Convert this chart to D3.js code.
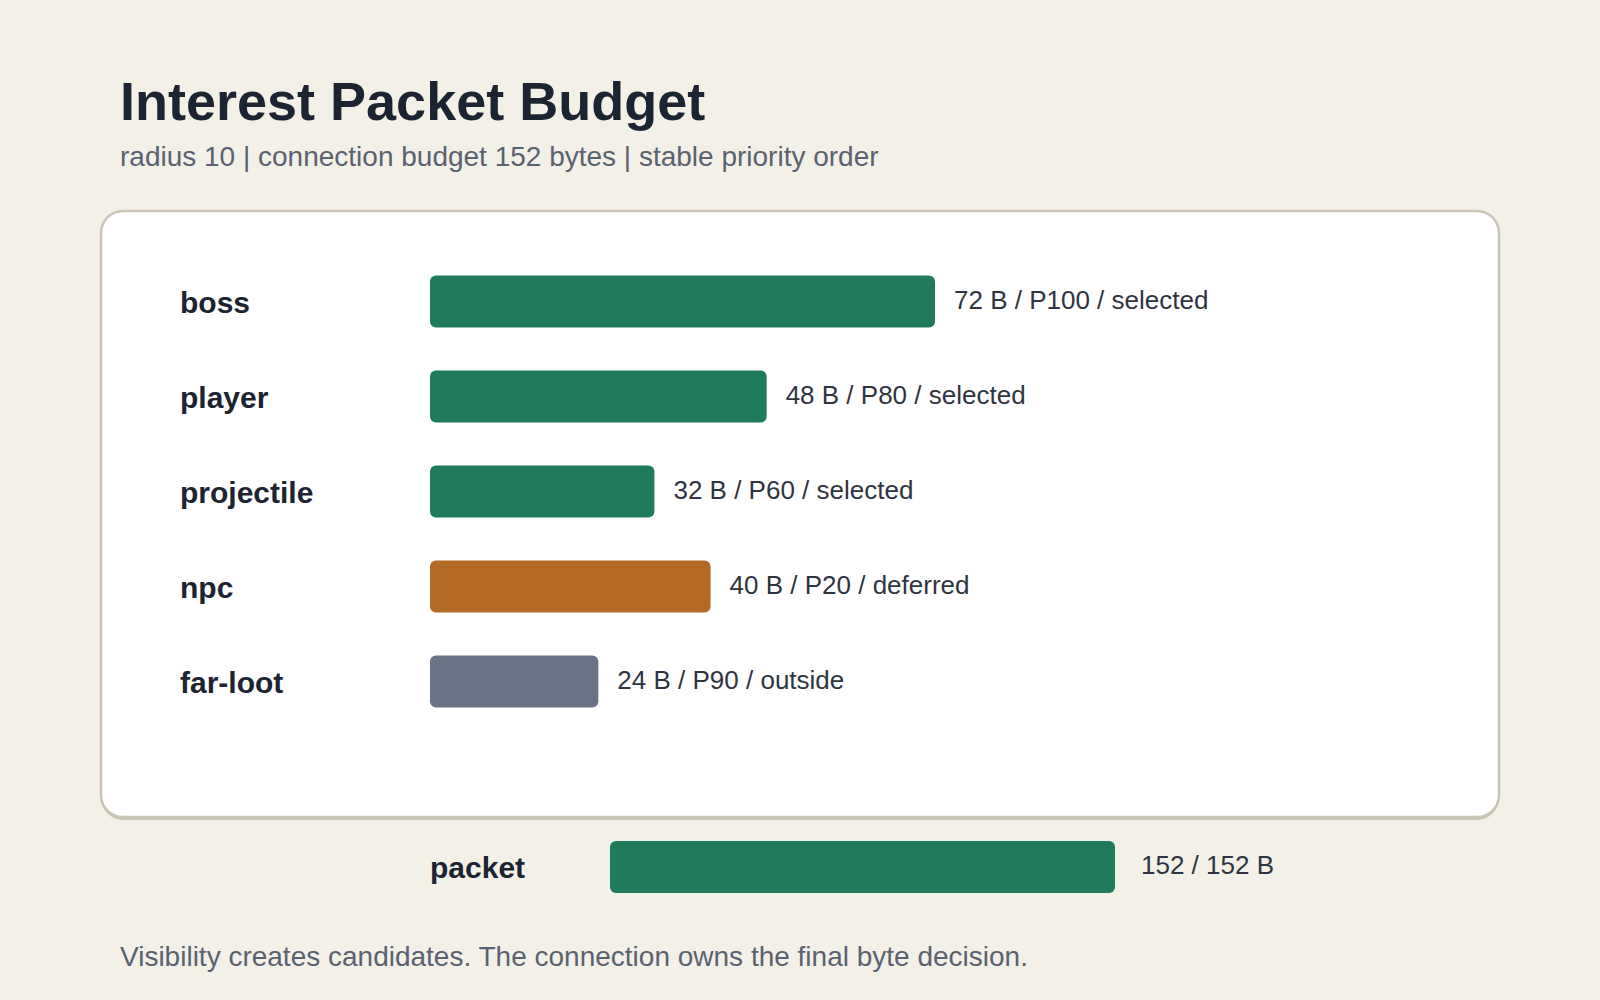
<!DOCTYPE html>
<html>
<head>
<meta charset="utf-8">
<script src="https://cdn.jsdelivr.net/npm/d3@7"></script>
<style>
  html, body { margin: 0; padding: 0; background: #f3f0e8; }
  svg { display: block; font-family: "Liberation Sans", Arial, sans-serif; }
</style>
</head>
<body>
<svg id="chart" width="1600" height="1000"></svg>
<script>
// candidates in stable priority order
const entities = ["boss", "player", "projectile", "npc", "far-loot"];
const bytes = [72, 48, 32, 40, 24];
const priorities = [100, 80, 60, 20, 90];
const states = ["selected", "selected", "selected", "deferred", "outside"];

const budget = 152;
const packetUsed = 152;

const stateColors = { selected: "#207b5c", deferred: "#b36a24", outside: "#687385" };

const svg = d3.select("#chart");

// title block
svg.append("text")
    .attr("x", 120).attr("y", 120)
    .style("font-size", "54px").style("font-weight", "bold")
    .attr("fill", "#1b2430")
    .text("Interest Packet Budget");

svg.append("text")
    .attr("x", 120).attr("y", 166)
    .style("font-size", "28px")
    .attr("fill", "#5a6270")
    .text("radius 10 | connection budget 152 bytes | stable priority order");

// panel (shadow + card)
svg.append("rect")
    .attr("x", 101).attr("y", 213).attr("width", 1398).attr("height", 607)
    .attr("rx", 22).attr("fill", "#cbc6b7");
svg.append("rect")
    .attr("x", 101).attr("y", 211).attr("width", 1398).attr("height", 606)
    .attr("rx", 22).attr("fill", "#ffffff")
    .attr("stroke", "#c9c4b4").attr("stroke-width", 2.5);

const rows = entities.map((name, i) => ({
    name: name, bytes: bytes[i], priority: priorities[i], state: states[i]
}));

const x = d3.scaleLinear().domain([0, d3.max(bytes)]).range([430, 935]);
const y = d3.scaleBand().domain(entities).range([275.5, 707.5]).paddingInner(43 / 95).paddingOuter(0);

const row = svg.append("g").selectAll("g")
    .data(rows)
    .enter()
    .append("g");

row.append("text")
    .attr("x", 180)
    .attr("y", d => y(d.name) + y.bandwidth() / 2 + 11)
    .style("font-size", "30px").style("font-weight", "bold")
    .attr("fill", "#1b2430")
    .text(d => d.name);

row.append("rect")
    .attr("x", x(0))
    .attr("y", d => y(d.name))
    .attr("width", d => x(d.bytes) - x(0))
    .attr("height", y.bandwidth())
    .attr("rx", 6)
    .attr("fill", d => stateColors[d.state]);

row.append("text")
    .attr("x", d => x(d.bytes) + 19)
    .attr("y", d => y(d.name) + y.bandwidth() / 2 + 7)
    .style("font-size", "26px")
    .attr("fill", "#2f3540")
    .text(d => d.bytes + " B / P" + d.priority + " / " + d.state);

// packet total
const px = d3.scaleLinear().domain([0, budget]).range([610, 1115]);
const packetY = 841;
const packetH = y.bandwidth();

svg.append("text")
    .attr("x", 430).attr("y", packetY + packetH / 2 + 11)
    .style("font-size", "30px").style("font-weight", "bold")
    .attr("fill", "#1b2430")
    .text("packet");

svg.append("rect")
    .attr("x", px(0)).attr("y", packetY)
    .attr("width", px(packetUsed) - px(0)).attr("height", packetH)
    .attr("rx", 6).attr("fill", stateColors.selected);

svg.append("text")
    .attr("x", px(packetUsed) + 26).attr("y", packetY + packetH / 2 + 7)
    .style("font-size", "26px")
    .attr("fill", "#2f3540")
    .text(packetUsed + " / " + budget + " B");

svg.append("text")
    .attr("x", 120).attr("y", 966)
    .style("font-size", "28px")
    .attr("fill", "#5a6270")
    .text("Visibility creates candidates. The connection owns the final byte decision.");
</script>
</body>
</html>
